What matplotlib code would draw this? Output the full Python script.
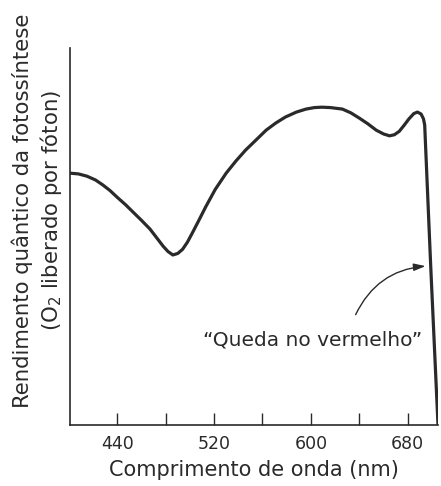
import matplotlib
matplotlib.use("Agg")
import matplotlib.pyplot as plt

plt.rcParams['font.family'] = ['DejaVu Sans']

# wavelength (nm) and relative quantum yield
wavelength = [401, 408, 415, 422, 428, 434, 440, 447, 453, 460, 467, 473, 478, 482,
              486, 490, 494, 498, 502, 507, 513, 521, 530, 538, 546, 555, 563, 571,
              579, 588, 596, 603, 609, 616, 626, 633, 640, 647, 654, 660, 665, 669,
              673, 677, 681, 685, 688, 691, 693, 694, 699, 705]
yield_rel = [0.668, 0.666, 0.660, 0.650, 0.637, 0.622, 0.604, 0.584, 0.565, 0.543,
             0.520, 0.495, 0.474, 0.460, 0.451, 0.455, 0.466, 0.485, 0.509, 0.540,
             0.578, 0.625, 0.668, 0.700, 0.729, 0.757, 0.782, 0.801, 0.817, 0.830,
             0.838, 0.842, 0.843, 0.842, 0.838, 0.828, 0.814, 0.799, 0.782, 0.772,
             0.767, 0.770, 0.779, 0.795, 0.812, 0.826, 0.830, 0.825, 0.812, 0.796,
             0.420, 0.0]

xticks = [440, 480, 520, 560, 600, 640, 680]
xtick_labels = ['440', '', '520', '', '600', '', '680']

ink = '#2a2a2a'

fig = plt.figure(figsize=(4.41, 4.86), dpi=100)
ax = fig.add_axes([70 / 441, 61 / 486, 368 / 441, 377 / 486])

ax.plot(wavelength, yield_rel, color=ink, linewidth=2.3, solid_joinstyle='round',
        solid_capstyle='round')

ax.set_xlim(401, 705)
ax.set_ylim(0, 1)

ax.spines['top'].set_visible(False)
ax.spines['right'].set_visible(False)
ax.spines['left'].set_color(ink)
ax.spines['bottom'].set_color(ink)
ax.spines['left'].set_linewidth(1.2)
ax.spines['bottom'].set_linewidth(1.2)

ax.set_xticks(xticks)
ax.set_xticklabels(xtick_labels)
ax.set_yticks([])
ax.tick_params(axis='x', direction='in', length=8.5, width=1, color=ink,
               labelsize=12.5, labelcolor=ink, pad=7)

ax.set_xlabel('Comprimento de onda (nm)', fontsize=15, color=ink, labelpad=5)

fig.text(22 / 441, 1 - 211 / 486, 'Rendimento quântico da fotossíntese',
         rotation=90, ha='center', va='center', fontsize=15.3, color=ink)
fig.text(51 / 441, 1 - 210 / 486, '(O$_2$ liberado por fóton)',
         rotation=90, ha='center', va='center', fontsize=15.3, color=ink)

ax.text(601, 0.225, '\u201cQueda no vermelho\u201d', ha='center', va='center',
        fontsize=14.5, color=ink)
ax.annotate('', xy=(697, 0.422), xytext=(636, 0.286),
            arrowprops=dict(arrowstyle='-|>,head_length=0.7,head_width=0.22',
                            connectionstyle='arc3,rad=-0.3', color=ink, lw=1.0))

fig.savefig('out.png', dpi=100)
